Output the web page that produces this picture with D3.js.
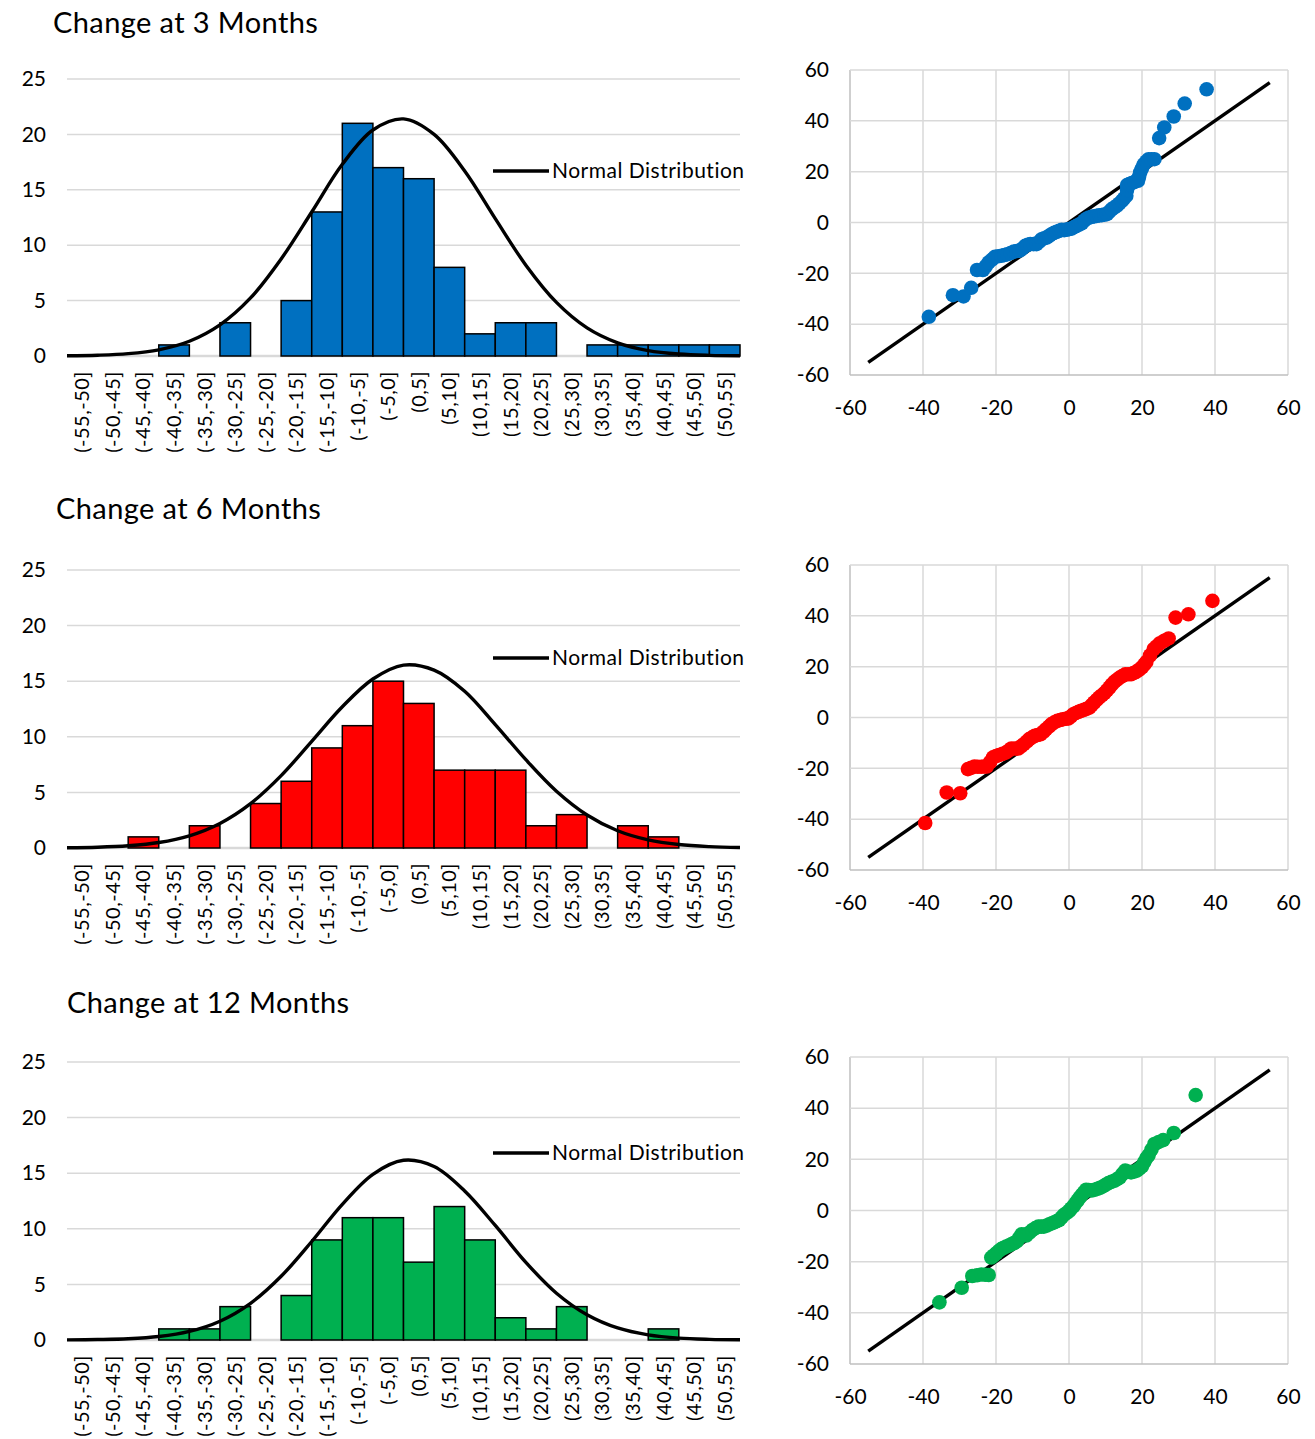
<!DOCTYPE html>
<html>
<head>
<meta charset="utf-8">
<script src="https://cdnjs.cloudflare.com/ajax/libs/d3/7.8.5/d3.min.js"></script>
<style>
  body { margin: 0; background: #fff; }
  text { font-family: Lato, 'Open Sans', sans-serif; fill: #000; }
</style>
</head>
<body>
<svg id="chart" width="1315" height="1439"></svg>
<script>
// bins of the change, 5 units wide
const bins = ['(-55,-50]', '(-50,-45]', '(-45,-40]', '(-40,-35]', '(-35,-30]', '(-30,-25]',
  '(-25,-20]', '(-20,-15]', '(-15,-10]', '(-10,-5]', '(-5,0]', '(0,5]', '(5,10]', '(10,15]',
  '(15,20]', '(20,25]', '(25,30]', '(30,35]', '(35,40]', '(40,45]', '(45,50]', '(50,55]'];

const counts3 = [0, 0, 0, 1, 0, 3, 0, 5, 13, 21, 17, 16, 8, 2, 3, 3, 0, 1, 1, 1, 1, 1];
const counts6 = [0, 0, 1, 0, 2, 0, 4, 6, 9, 11, 15, 13, 7, 7, 7, 2, 3, 0, 2, 1, 0, 0];
const counts12 = [0, 0, 0, 1, 1, 3, 0, 4, 9, 11, 11, 7, 12, 9, 2, 1, 3, 0, 0, 1, 0, 0];

// normal curve read at every bin edge (23 edges)
const normal3 = [0.02, 0.07, 0.21, 0.56, 1.33, 2.81, 5.24, 8.76, 13.0, 17.3, 20.4, 21.4,
  20.0, 16.7, 12.4, 8.2, 4.84, 2.54, 1.19, 0.49, 0.18, 0.06, 0.02];
const normal6 = [0.02, 0.07, 0.20, 0.49, 1.10, 2.21, 3.99, 6.51, 9.59, 12.7, 15.2, 16.45,
  16.0, 14.1, 11.1, 7.94, 5.11, 2.97, 1.55, 0.73, 0.31, 0.12, 0.04];
const normal12 = [0.01, 0.04, 0.11, 0.31, 0.77, 1.69, 3.30, 5.73, 8.86, 12.2, 14.9, 16.16,
  15.6, 13.4, 10.3, 6.98, 4.21, 2.27, 1.08, 0.46, 0.17, 0.06, 0.02];

const histTicks = [0, 5, 10, 15, 20, 25];
const qqTicks = [-60, -40, -20, 0, 20, 40, 60];
const qqLine = [-55, 55];

// Q-Q points: expected (x) vs observed (y)
const qq3x = [-38.4, -31.8, -28.9, -26.8, -25.2, -23.6, -22.8, -22.0, -21.1, -20.3, -19.4, -18.5,
  -17.7, -16.9, -16.0, -15.1, -14.3, -13.5, -12.7, -12.0, -11.3, -10.6, -9.7, -8.9, -8.2, -7.5,
  -6.8, -6.1, -5.4, -4.8, -4.1, -3.4, -2.7, -2.0, -1.3, -0.6, 0.0, 0.7, 1.4, 2.1, 2.8, 3.5, 4.2,
  4.9, 5.5, 6.2, 6.9, 7.6, 8.3, 9.0, 9.7, 10.4, 11.0, 11.7, 12.4, 13.1, 13.8, 14.5, 15.1, 15.7,
  15.9, 15.9, 16.5, 17.2, 18.0, 18.9, 19.2, 19.5, 20.0, 20.5, 21.2, 21.8, 22.6, 23.4, 24.7, 26.1,
  28.7, 31.7, 37.7];
const qq3y = [-37.1, -28.6, -29.1, -25.7, -18.7, -18.7, -17.2, -15.7, -14.6, -13.5, -13.3, -13.1,
  -12.8, -12.5, -12.0, -11.4, -11.2, -11.1, -10.2, -9.2, -8.8, -8.5, -8.5, -8.5, -7.6, -6.6,
  -6.2, -5.9, -5.2, -4.6, -4.1, -3.7, -3.3, -2.9, -3.0, -2.8, -2.6, -2.4, -1.8, -1.3, -0.8, -0.3, 0.8,
  1.6, 1.9, 2.2, 2.4, 2.6, 2.8, 2.9, 3.1, 3.3, 4.2, 5.2, 5.9, 6.6, 7.5, 8.5, 9.5, 10.5,
  12.8, 14.7, 15.1, 15.5, 16.0, 16.4, 18.0, 19.7, 21.3, 22.9, 24.0, 24.9, 24.9, 24.9, 33.2, 37.4,
  41.7, 46.8, 52.4];

const qq6x = [-39.4, -33.5, -29.8, -27.7, -26.8, -25.9, -25.0, -24.0, -23.2, -22.5, -21.6, -20.8,
  -20.0, -19.2, -18.2, -17.3, -16.5, -15.8, -14.8, -13.9, -13.1, -12.4, -11.6, -10.9, -10.1, -9.4,
  -8.6, -7.8, -7.0, -6.3, -5.5, -4.8, -4.0, -3.2, -2.4, -1.7, -0.9, -0.2, 0.5, 1.2, 1.9, 2.6, 3.3,
  4.1, 4.8, 5.6, 6.2, 6.9, 7.6, 8.3, 9.0, 9.7, 10.4, 11.1, 11.7, 12.4, 13.1, 13.9, 14.6, 15.4,
  16.2, 17.0, 17.7, 18.4, 19.2, 20.0, 20.6, 21.2, 22.2, 23.2, 24.0, 24.9, 26.1, 27.3, 29.2, 32.7,
  39.3];
const qq6y = [-41.5, -29.5, -29.8, -20.3, -19.8, -19.3, -19.4, -19.4, -19.3, -19.3, -17.5, -15.7,
  -15.2, -14.8, -14.3, -13.8, -13.0, -12.2, -12.2, -12.2, -11.3, -10.5, -9.5, -8.5, -7.8, -7.2,
  -6.9, -6.6, -5.6, -4.6, -3.6, -2.6, -1.9, -1.3, -1.0, -0.7, -0.5, -0.4, 0.4, 1.3, 1.8, 2.2, 2.6,
  3.0, 3.4, 3.9, 4.9, 5.9, 6.9, 7.9, 8.7, 9.6, 10.7, 11.8, 12.9, 14.0, 14.8, 15.7, 16.3, 17.0,
  17.0, 17.0, 17.5, 18.0, 18.8, 19.7, 20.8, 21.9, 24.4, 26.9, 28.0, 29.2, 30.2, 31.1, 39.3, 40.6,
  45.9];

const qq12x = [-35.5, -29.4, -26.5, -25.2, -24.0, -23.0, -22.0, -21.3, -20.6, -19.9, -19.2, -18.5,
  -17.9, -17.2, -16.5, -15.8, -15.1, -14.4, -13.7, -13.0, -12.4, -11.7, -10.9, -10.0, -9.2, -8.4,
  -7.6, -6.9, -6.1, -5.4, -4.7, -4.0, -3.3, -2.7, -2.0, -1.4, -0.6, 0.1, 0.6, 1.2, 1.7, 2.3, 2.9,
  3.5, 4.1, 4.7, 5.4, 6.2, 7.0, 7.8, 8.5, 9.3, 10.0, 10.8, 11.6, 12.4, 13.1, 13.9, 14.6, 15.4,
  16.2, 17.0, 17.8, 18.6, 19.3, 20.0, 20.6, 21.2, 21.8, 22.6, 23.4, 24.6, 25.8, 28.7, 34.7];
const qq12y = [-35.9, -30.2, -25.6, -25.3, -25.0, -25.1, -25.2, -18.4, -17.6, -16.7, -15.8, -15.0,
  -14.6, -14.1, -13.7, -13.2, -12.7, -12.2, -10.8, -9.3, -9.5, -9.8, -8.7, -7.6, -6.9, -6.3,
  -6.3, -6.3, -5.9, -5.4, -5.0, -4.6, -4.1, -3.7, -2.7, -1.7, -0.9, -0.1, 0.8, 1.6, 2.7, 3.8, 5.0,
  6.1, 7.1, 8.1, 8.0, 7.8, 8.1, 8.5, 8.9, 9.4, 10.0, 10.7, 11.2, 11.6, 12.2, 12.9, 14.2, 15.6,
  15.2, 14.9, 15.2, 15.6, 16.4, 17.3, 18.9, 20.5, 21.6, 23.8, 26.0, 26.8, 27.5, 30.3, 45.1];

const panels = [
  { title: 'Change at 3 Months', titleX: 53, titleY: 33, counts: counts3, curve: normal3, color: '#0070C0',
    top: 79, bottom: 356, legendY: 171, qx: qq3x, qy: qq3y, qTop: 70, qBottom: 375 },
  { title: 'Change at 6 Months', titleX: 56, titleY: 519, counts: counts6, curve: normal6, color: '#FF0000',
    top: 570, bottom: 848, legendY: 658, qx: qq6x, qy: qq6y, qTop: 565, qBottom: 870 },
  { title: 'Change at 12 Months', titleX: 67, titleY: 1013, counts: counts12, curve: normal12, color: '#00B050',
    top: 1062, bottom: 1340, legendY: 1153, qx: qq12x, qy: qq12y, qTop: 1057, qBottom: 1364 }
];

const svg = d3.select('#chart');
const histLeft = 67, histRight = 740;
const qqLeft = 850, qqRight = 1288;
const gridColor = '#d9d9d9';
const plain = function(d) { return String(d); }; // hyphen minus like the original

panels.forEach(function(p) {
  const g = svg.append('g');

  g.append('text')
    .attr('x', p.titleX)
    .attr('y', p.titleY)
    .attr('font-size', '29px')
    .attr('letter-spacing', '0.4px')
    .text(p.title);

  // histogram
  const x = d3.scaleBand().domain(bins).range([histLeft, histRight]);
  const xEdge = d3.scaleLinear().domain([0, bins.length]).range([histLeft, histRight]);
  const y = d3.scaleLinear().domain([0, 25]).range([p.bottom, p.top]);

  g.append('g').selectAll('line')
    .data(histTicks)
    .enter()
    .append('line')
    .attr('x1', histLeft).attr('x2', histRight)
    .attr('y1', function(d) { return y(d); })
    .attr('y2', function(d) { return y(d); })
    .attr('stroke', gridColor)
    .attr('stroke-width', d => d === 0 ? 2.5 : 1.5);

  const yAxis = g.append('g')
    .attr('transform', 'translate(' + histLeft + ',0)')
    .call(d3.axisLeft(y).tickValues(histTicks).tickFormat(plain).tickSize(0).tickPadding(histLeft - 46));
  yAxis.select('.domain').remove();
  yAxis.attr('font-family', null).attr('font-size', null);
  yAxis.selectAll('text').attr('font-size', '21px');

  g.append('g').selectAll('rect')
    .data(p.counts.map(function(c, i) { return { bin: bins[i], c: c }; }).filter(function(d) { return d.c > 0; }))
    .enter()
    .append('rect')
    .attr('x', function(d) { return x(d.bin); })
    .attr('y', function(d) { return y(d.c); })
    .attr('width', x.bandwidth())
    .attr('height', function(d) { return p.bottom - y(d.c); })
    .attr('fill', p.color)
    .attr('stroke', '#000')
    .attr('stroke-width', 1.5);

  g.append('g').selectAll('text')
    .data(bins)
    .enter()
    .append('text')
    .attr('transform', function(d) {
      return 'translate(' + (x(d) + x.bandwidth() / 2) + ',' + (p.bottom + 15) + ') rotate(-90)';
    })
    .attr('text-anchor', 'end')
    .attr('dy', '0.35em')
    .attr('font-size', '20px')
    .attr('letter-spacing', '0.5px')
    .text(function(d) { return d; });

  const line = d3.line()
    .x(function(d, i) { return xEdge(i); })
    .y(function(d) { return y(d); })
    .curve(d3.curveCatmullRom);
  g.append('path')
    .datum(p.curve)
    .attr('d', line)
    .attr('fill', 'none')
    .attr('stroke', '#000')
    .attr('stroke-width', 3.4);

  // legend
  g.append('line')
    .attr('x1', 493).attr('x2', 549)
    .attr('y1', p.legendY).attr('y2', p.legendY)
    .attr('stroke', '#000').attr('stroke-width', 3.4);
  g.append('text')
    .attr('x', 552)
    .attr('y', p.legendY)
    .attr('dy', '0.35em')
    .attr('font-size', '21px')
    .attr('letter-spacing', '0.5px')
    .text('Normal Distribution');

  // Q-Q plot
  const qxs = d3.scaleLinear().domain([-60, 60]).range([qqLeft, qqRight]);
  const qys = d3.scaleLinear().domain([-60, 60]).range([p.qBottom, p.qTop]);
  const q = g.append('g');
  q.append('g').selectAll('line')
    .data(qqTicks)
    .enter()
    .append('line')
    .attr('x1', function(d) { return qxs(d); }).attr('x2', function(d) { return qxs(d); })
    .attr('y1', p.qTop).attr('y2', p.qBottom)
    .attr('stroke', d => d === -60 ? '#bfbfbf' : gridColor)
    .attr('stroke-width', 1.5);
  q.append('g').selectAll('line')
    .data(qqTicks)
    .enter()
    .append('line')
    .attr('x1', qqLeft).attr('x2', qqRight)
    .attr('y1', function(d) { return qys(d); }).attr('y2', function(d) { return qys(d); })
    .attr('stroke', d => d === -60 ? '#bfbfbf' : gridColor)
    .attr('stroke-width', 1.5);

  const qyAxis = q.append('g')
    .attr('transform', 'translate(' + qqLeft + ',0)')
    .call(d3.axisLeft(qys).tickValues(qqTicks).tickFormat(plain).tickSize(0).tickPadding(qqLeft - 829));
  qyAxis.select('.domain').remove();
  qyAxis.attr('font-family', null).attr('font-size', null);
  qyAxis.selectAll('text').attr('font-size', '21px');

  const qxAxis = q.append('g')
    .attr('transform', 'translate(0,' + p.qBottom + ')')
    .call(d3.axisBottom(qxs).tickValues(qqTicks).tickFormat(plain).tickSize(0).tickPadding(25));
  qxAxis.select('.domain').remove();
  qxAxis.attr('font-family', null).attr('font-size', null);
  qxAxis.selectAll('text').attr('font-size', '21px');

  q.append('line')
    .attr('x1', qxs(qqLine[0])).attr('y1', qys(qqLine[0]))
    .attr('x2', qxs(qqLine[1])).attr('y2', qys(qqLine[1]))
    .attr('stroke', '#000')
    .attr('stroke-width', 3.4);

  q.append('g').selectAll('circle')
    .data(p.qx)
    .enter()
    .append('circle')
    .attr('cx', function(d) { return qxs(d); })
    .attr('cy', function(d, i) { return qys(p.qy[i]); })
    .attr('r', 7.3)
    .attr('fill', p.color);
});
</script>
</body>
</html>
